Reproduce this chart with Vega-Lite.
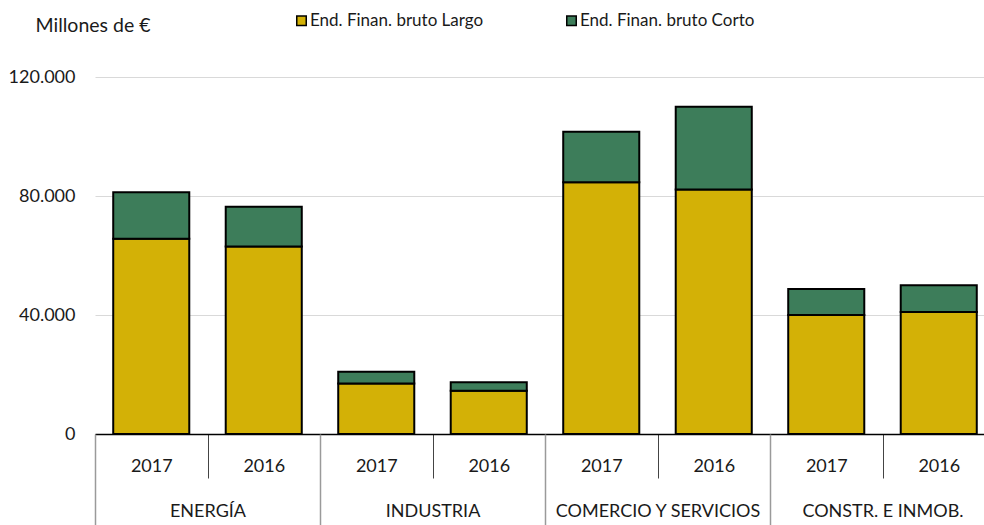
{
  "$schema": "https://vega.github.io/schema/vega-lite/v6.json",
  "autosize": "none",
  "padding": {"left": 95, "top": 77, "right": 0, "bottom": 91},
  "width": 900,
  "height": 357,
  "background": "white",
  "config": {
    "font": "Lato",
    "view": {"stroke": null},
    "axis": {"labelFont": "Lato", "labelColor": "#1a1a1a", "titleFont": "Lato", "labelLimit": 400},
    "legend": {"labelFont": "Lato", "labelLimit": 400}
  },
  "data": {
    "values": [
      {"sector": "ENERGÍA", "anio": "2017", "serie": "End. Finan. bruto Largo", "valor": 65600},
      {"sector": "ENERGÍA", "anio": "2017", "serie": "End. Finan. bruto  Corto", "valor": 15700},
      {"sector": "ENERGÍA", "anio": "2016", "serie": "End. Finan. bruto Largo", "valor": 63000},
      {"sector": "ENERGÍA", "anio": "2016", "serie": "End. Finan. bruto  Corto", "valor": 13400},
      {"sector": "INDUSTRIA", "anio": "2017", "serie": "End. Finan. bruto Largo", "valor": 17000},
      {"sector": "INDUSTRIA", "anio": "2017", "serie": "End. Finan. bruto  Corto", "valor": 3900},
      {"sector": "INDUSTRIA", "anio": "2016", "serie": "End. Finan. bruto Largo", "valor": 14500},
      {"sector": "INDUSTRIA", "anio": "2016", "serie": "End. Finan. bruto  Corto", "valor": 2900},
      {"sector": "COMERCIO Y SERVICIOS", "anio": "2017", "serie": "End. Finan. bruto Largo", "valor": 84600},
      {"sector": "COMERCIO Y SERVICIOS", "anio": "2017", "serie": "End. Finan. bruto  Corto", "valor": 17000},
      {"sector": "COMERCIO Y SERVICIOS", "anio": "2016", "serie": "End. Finan. bruto Largo", "valor": 82200},
      {"sector": "COMERCIO Y SERVICIOS", "anio": "2016", "serie": "End. Finan. bruto  Corto", "valor": 27800},
      {"sector": "CONSTR. E INMOB.", "anio": "2017", "serie": "End. Finan. bruto Largo", "valor": 40000},
      {"sector": "CONSTR. E INMOB.", "anio": "2017", "serie": "End. Finan. bruto  Corto", "valor": 8700},
      {"sector": "CONSTR. E INMOB.", "anio": "2016", "serie": "End. Finan. bruto Largo", "valor": 41000},
      {"sector": "CONSTR. E INMOB.", "anio": "2016", "serie": "End. Finan. bruto  Corto", "valor": 9000}
    ]
  },
  "transform": [{"calculate": "datum.sector + '|' + datum.anio", "as": "clave"}],
  "layer": [
    {
      "mark": {"type": "bar", "width": {"band": 0.676}, "stroke": "black", "strokeWidth": 2},
      "encoding": {
        "x": {
          "field": "clave",
          "type": "nominal",
          "sort": null,
          "scale": {"paddingInner": 0, "paddingOuter": 0},
          "axis": {
            "orient": "bottom",
            "title": null,
            "labelAngle": 0,
            "labelExpr": "split(datum.label, '|')[1]",
            "labelFontSize": 18,
            "labelPadding": -21,
            "tickBand": "extent",
            "tickSize": 44,
            "tickColor": "#444",
            "tickWidth": 1,
            "domainColor": "black",
            "domainWidth": 1.5
          }
        },
        "y": {
          "field": "valor",
          "type": "quantitative",
          "stack": "zero",
          "scale": {"domain": [0, 120000], "nice": false},
          "axis": {
            "title": "Millones de €",
            "titleAngle": 0,
            "titleX": -60,
            "titleY": -46,
            "titleAlign": "left",
            "titleBaseline": "alphabetic",
            "titleFontSize": 19.5,
            "titleFontWeight": "normal",
            "titleColor": "#1a1a1a",
            "values": [0, 40000, 80000, 120000],
            "labelExpr": "replace(format(datum.value, ','), ',', '.')",
            "labelFontSize": 18,
            "labelPadding": 20,
            "ticks": false,
            "domain": false,
            "gridColor": "#d9d9d9",
            "gridWidth": 1
          }
        },
        "color": {
          "field": "serie",
          "type": "nominal",
          "scale": {
            "domain": ["End. Finan. bruto Largo", "End. Finan. bruto  Corto"],
            "range": ["#d3b106", "#3d7d5a"]
          },
          "legend": {
            "title": null,
            "orient": "none",
            "direction": "horizontal",
            "legendX": 198,
            "legendY": -65,
            "padding": 0,
            "symbolType": "square",
            "symbolSize": 90,
            "symbolStrokeColor": "black",
            "symbolStrokeWidth": 1.5,
            "labelFontSize": 17,
            "labelColor": "#1a1a1a",
            "labelOffset": 0,
            "columnPadding": 79
          }
        },
        "order": {"field": "serie", "sort": "descending"}
      }
    },
    {
      "mark": {"type": "point", "opacity": 0},
      "encoding": {
        "x": {
          "field": "sector",
          "type": "nominal",
          "sort": null,
          "scale": {"paddingInner": 0, "paddingOuter": 0},
          "axis": {
            "orient": "bottom",
            "title": null,
            "labelAngle": 0,
            "labelFontSize": 18,
            "labelPadding": -23,
            "labelColor": "#1a1a1a",
            "tickBand": "extent",
            "tickSize": 91,
            "tickColor": "#9a9a9a",
            "tickWidth": 1.5,
            "domain": false
          }
        },
        "y": {"field": "valor", "type": "quantitative"}
      }
    }
  ],
  "resolve": {"scale": {"x": "independent"}, "axis": {"x": "independent"}}
}
